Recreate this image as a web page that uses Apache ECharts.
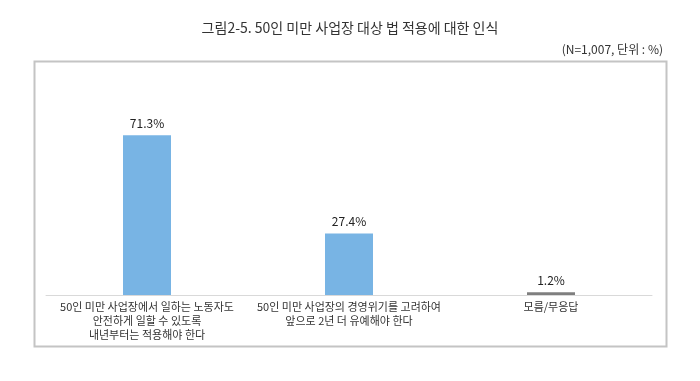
<!DOCTYPE html>
<html><head><meta charset="utf-8">
<script src="https://cdn.jsdelivr.net/npm/echarts@6/dist/echarts.min.js"></script>
<style>html,body{margin:0;padding:0;background:#fff}#c{width:700px;height:381px}</style>
</head><body><div id="c"></div>
<script>
const titleText = '그림2-5. 50인 미만 사업장 대상 법 적용에 대한 인식';
const noteText = '(N=1,007, 단위 : %)';
const categories = [
  '50인 미만 사업장에서 일하는 노동자도\n안전하게 일할 수 있도록\n내년부터는 적용해야 한다',
  '50인 미만 사업장의 경영위기를 고려하여\n앞으로 2년 더 유예해야 한다',
  '모름/무응답'
];
const values = [71.3, 27.4, 1.2];
const barColors = ['#78b4e4', '#78b4e4', '#7f7f7f'];
const font = '"Noto Sans CJK KR", "Noto Sans", sans-serif';

const chart = echarts.init(document.getElementById('c'), null, {renderer: 'canvas'});
chart.setOption({
  animation: false,
  textStyle: {fontFamily: font},
  title: [
    {text: titleText, left: 'center', top: 16, textStyle: {fontSize: 14, fontWeight: 'normal', color: '#333', fontFamily: font}},
    {text: noteText, right: 32, top: 38, textStyle: {fontSize: 12, fontWeight: 'normal', color: '#333', fontFamily: font}}
  ],
  graphic: [{
    type: 'rect', left: 32, top: 59, shape: {width: 632, height: 285},
    style: {fill: 'none', stroke: '#c4c4c4', lineWidth: 2}, silent: true
  }],
  grid: {left: 46, right: 48, top: 71, bottom: 86},
  xAxis: {
    type: 'category', data: categories,
    axisLine: {lineStyle: {color: '#d9d9d9', width: 1}},
    axisTick: {show: false},
    axisLabel: {interval: 0, fontSize: 11, color: '#333', lineHeight: 14, margin: 5, fontFamily: font}
  },
  yAxis: {type: 'value', min: 0, max: 100, show: false, splitLine: {show: false}},
  series: [{
    type: 'bar', barWidth: 48,
    data: values.map((v, i) => ({value: v, itemStyle: {color: barColors[i]}})),
    label: {show: true, position: 'top', distance: 6, formatter: p => p.value.toFixed(1) + '%', fontSize: 12, color: '#222', fontFamily: font}
  }]
});
</script></body></html>
